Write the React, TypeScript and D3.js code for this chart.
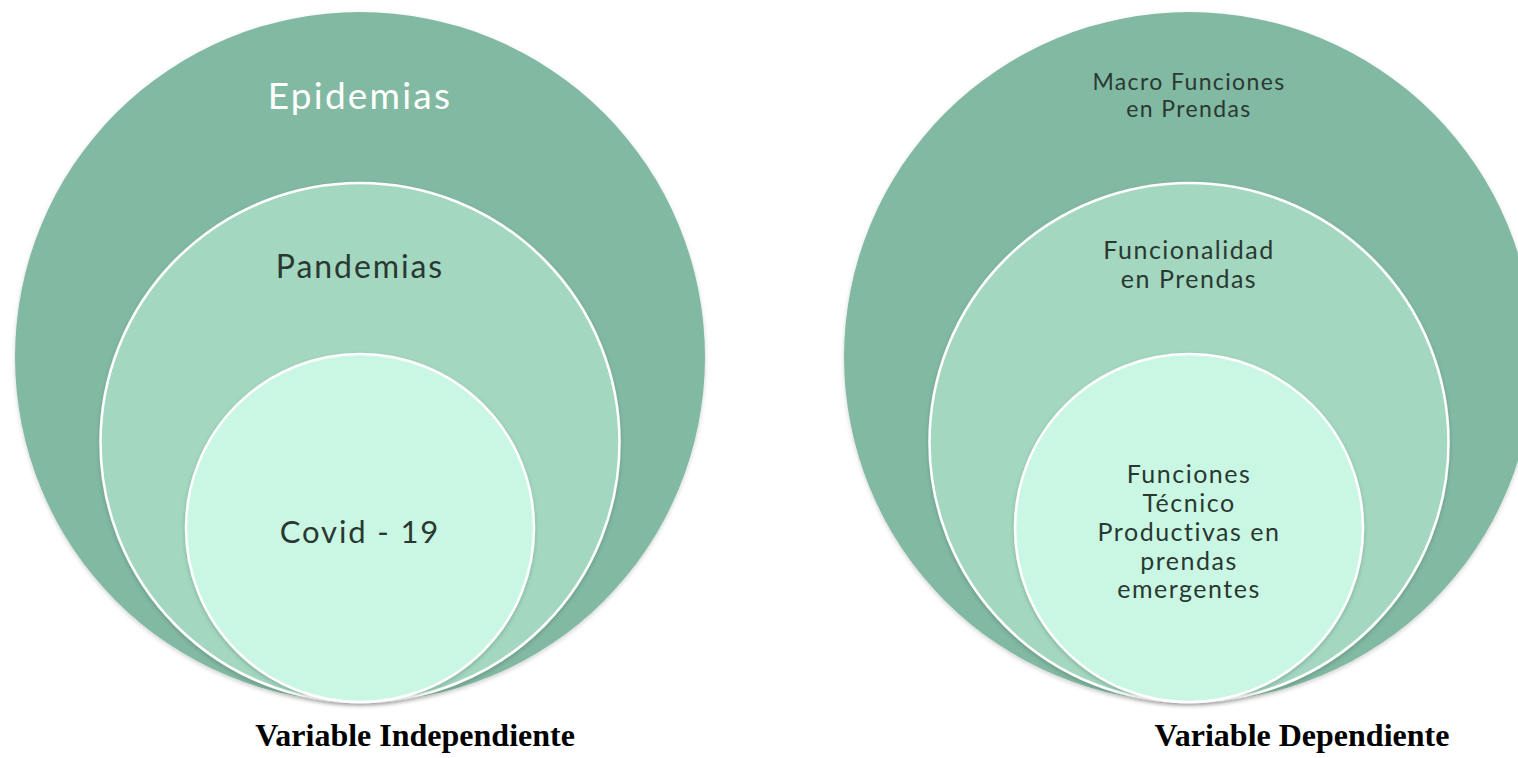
import React, { useEffect, useRef } from 'react';
import * as d3 from 'd3';

// nested levels, outermost first (3 = biggest ring)
const levels = [3, 2, 1];
const leftLabels = [['Epidemias'], ['Pandemias'], ['Covid - 19']];
const rightLabels = [
  ['Macro Funciones', 'en Prendas'],
  ['Funcionalidad', 'en Prendas'],
  ['Funciones', 'Técnico', 'Productivas en', 'prendas', 'emergentes'],
];
const captions = ['Variable Independiente', 'Variable Dependiente'];
const fills = ['#82b9a2', '#a3d7bf', '#c9f7e3'];

const W = 1518;
const H = 758;

const App = () => {
  const svgRef = useRef(null);

  useEffect(() => {
    const svg = d3.select(svgRef.current);
    svg.selectAll('*').remove();

    const rScale = d3.scaleLinear().domain([1, 3]).range([174, 345]);

    const defs = svg.append('defs');
    const f = defs.append('filter').attr('id', 'sh').attr('x', '-10%').attr('y', '-10%').attr('width', '120%').attr('height', '120%');
    f.append('feDropShadow').attr('dx', 0).attr('dy', 2).attr('stdDeviation', 2)
      .attr('flood-color', '#000').attr('flood-opacity', 0.18);

    const groups = [
      { cx: 360, base: 702, labels: leftLabels, caption: captions[0], capX: 415,
        textY: [[94], [265], [531]], sizes: [37, 32, 31] },
      { cx: 1189, base: 702, labels: rightLabels, caption: captions[1], capX: 1302,
        textY: [[81, 108], [249, 278], [473, 502, 531, 560, 588]], sizes: [23, 25, 25] },
    ];

    groups.forEach(g => {
      const grp = svg.append('g');
      levels.forEach((lv, i) => {
        const r = rScale(lv);
        grp.append('circle')
          .attr('cx', g.cx)
          .attr('cy', g.base - r)
          .attr('r', r)
          .attr('fill', fills[i])
          .attr('stroke', i === 0 ? 'none' : '#ffffff')
          .attr('stroke-width', 2.5)
          .attr('filter', 'url(#sh)');
      });
      levels.forEach((lv, i) => {
        const t = grp.append('text')
          .attr('text-anchor', 'middle')
          .attr('dominant-baseline', 'central')
          .style('font-family', 'Lato, "Open Sans", sans-serif')
          .style('font-size', g.sizes[i] + 'px')
          .style('letter-spacing', '0.06em')
          .attr('fill', g === groups[0] && i === 0 ? '#ffffff' : '#2a3832');
        g.labels[i].forEach((line, j) => {
          t.append('tspan').attr('x', g.cx).attr('y', g.textY[i][j]).text(line);
        });
      });
      svg.append('text')
        .attr('x', g.capX)
        .attr('y', 746)
        .attr('text-anchor', 'middle')
        .style('font-family', '"Liberation Serif", "Times New Roman", serif')
        .style('font-weight', 'bold')
        .style('font-size', '32px')
        .attr('fill', '#000')
        .text(g.caption);
    });
  }, []);

  return (
    <div style={{ position: 'absolute', left: 0, top: 0 }}>
      <svg ref={svgRef} width={W} height={H} style={{ display: 'block', background: '#fff' }}></svg>
    </div>
  );
};

export default App;
